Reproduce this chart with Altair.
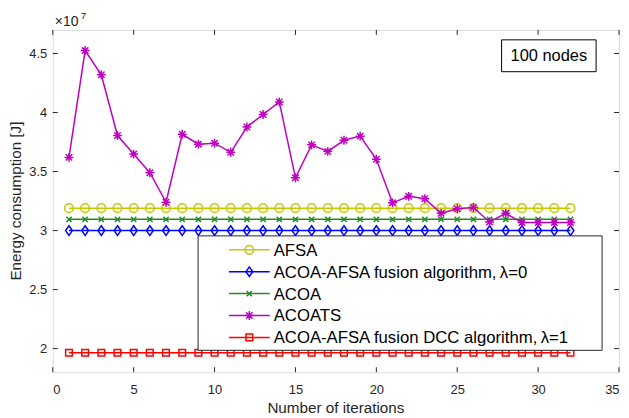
import altair as alt
import pandas as pd

# ---------------- data (energy in units of 1e7 J) ----------------
iterations = list(range(1, 33))
afsa = [3.19] * 32
acoa_afsa0 = [3.00] * 32
acoa = [3.095] * 32
acoats = [3.62, 4.525, 4.32, 3.805, 3.648, 3.49, 3.24, 3.816, 3.732, 3.74,
          3.663, 3.877, 3.983, 4.09, 3.447, 3.726, 3.671, 3.765, 3.80, 3.604,
          3.235, 3.29, 3.27, 3.146, 3.185, 3.196, 3.073, 3.146, 3.068, 3.068,
          3.068, 3.068]
dcc1 = [1.965] * 32

series_names = ["AFSA",
                "ACOA-AFSA fusion algorithm,\u2009\u03bb=0",
                "ACOA",
                "ACOATS",
                "ACOA-AFSA fusion DCC algorithm,\u2009\u03bb=1"]
series_values = [afsa, acoa_afsa0, acoa, acoats, dcc1]

x_ticks = [0, 5, 10, 15, 20, 25, 30, 35]
y_ticks = [2, 2.5, 3, 3.5, 4, 4.5]
x_domain = [0, 35]
y_domain = [1.8, 4.7]

# ---------------- styles ----------------
W, H = 569, 344
FONT = "Liberation Sans"
AX = "#262626"
colors = ["#C8C800", "#0000FF", "#228B22", "#C000C0", "#FF0000"]
shapes = ["circle",
          "M0,-1.2L0.85,0L0,1.2L-0.85,0Z",
          "M-1,-1L1,1M-1,1L1,-1",
          "M-1,0L1,0M0,-1L0,1M-0.72,-0.72L0.72,0.72M-0.72,0.72L0.72,-0.72",
          "square"]
sizes = [75, 64, 28, 80, 45]

xs = alt.Scale(domain=x_domain, nice=False, zero=False)
ys = alt.Scale(domain=y_domain, nice=False, zero=False)

layers = []

# axes (labels only; ticks drawn inward below)
axes_layer = alt.Chart(pd.DataFrame({"x": [0], "y": [2]})).mark_point(opacity=0).encode(
    x=alt.X("x:Q", scale=xs, axis=alt.Axis(values=x_ticks, format="~g", tickSize=0, domain=False,
                                           grid=False, labelPadding=11, labelFontSize=13,
                                           labelFont=FONT, labelColor=AX, title=None)),
    y=alt.Y("y:Q", scale=ys, axis=alt.Axis(values=y_ticks, format="~g", tickSize=0, domain=False,
                                           grid=False, labelPadding=6, labelFontSize=13,
                                           labelFont=FONT, labelColor=AX, title=None)),
)
layers.append(axes_layer)

# inward ticks
xt = pd.DataFrame({"t": x_ticks})
yt = pd.DataFrame({"t": y_ticks})
for y1, y2 in [(H, H - 5), (0, 5)]:
    layers.append(alt.Chart(xt).mark_rule(color=AX, strokeWidth=1).encode(
        x=alt.X("t:Q", scale=xs), y=alt.value(y1), y2=alt.value(y2)))
for x1, x2 in [(0, 5), (W, W - 5)]:
    layers.append(alt.Chart(yt).mark_rule(color=AX, strokeWidth=1).encode(
        y=alt.Y("t:Q", scale=ys), x=alt.value(x1), x2=alt.value(x2)))

# data series
for name, vals, c, sh, sz in zip(series_names, series_values, colors, shapes, sizes):
    df = pd.DataFrame({"it": iterations, "v": vals})
    base = alt.Chart(df).encode(x=alt.X("it:Q", scale=xs), y=alt.Y("v:Q", scale=ys))
    layers.append(base.mark_line(color=c, strokeWidth=1.5))
    layers.append(base.mark_point(shape=sh, size=sz, color=c, filled=False, strokeWidth=1.5, opacity=1))

# legend box
one = pd.DataFrame({"a": [0]})
LX0, LX1, LY0, LY1 = 146, 552, 207, 322
layers.append(alt.Chart(one).mark_rect(fill="white", stroke=AX, strokeWidth=1).encode(
    x=alt.value(LX0), x2=alt.value(LX1), y=alt.value(LY0), y2=alt.value(LY1)))
row_y = [221, 243, 265, 287, 309]
for name, c, sh, sz, ry in zip(series_names, colors, shapes, sizes, row_y):
    layers.append(alt.Chart(one).mark_rule(color=c, strokeWidth=1.5).encode(
        x=alt.value(177), x2=alt.value(218), y=alt.value(ry)))
    layers.append(alt.Chart(one).mark_point(shape=sh, size=sz, color=c, filled=False,
                                            strokeWidth=1.5, opacity=1).encode(
        x=alt.value(197.5), y=alt.value(ry)))
    layers.append(alt.Chart(one).mark_text(text=name, font=FONT, fontSize=16.8, color="black",
                                           align="left", baseline="middle").encode(
        x=alt.value(222), y=alt.value(ry + 1)))

# "100 nodes" annotation
layers.append(alt.Chart(one).mark_rect(fill="white", stroke="black", strokeWidth=1).encode(
    x=alt.value(451), x2=alt.value(546), y=alt.value(10), y2=alt.value(42)))
layers.append(alt.Chart(one).mark_text(text="100 nodes", font=FONT, fontSize=16.5, color="black",
                                       align="center", baseline="middle").encode(
    x=alt.value(498.5), y=alt.value(26.5)))

# exponent label
layers.append(alt.Chart(one).mark_text(text="\u00d710", font=FONT, fontSize=14, color=AX,
                                       align="left", baseline="alphabetic").encode(
    x=alt.value(2), y=alt.value(-4)))
layers.append(alt.Chart(one).mark_text(text="7", font=FONT, fontSize=10, color=AX,
                                       align="left", baseline="alphabetic").encode(
    x=alt.value(28), y=alt.value(-11)))

# axis titles
layers.append(alt.Chart(one).mark_text(text="Number of iterations", font=FONT, fontSize=15.3,
                                       color=AX, align="center", baseline="alphabetic").encode(
    x=alt.value(W / 2), y=alt.value(H + 41)))
layers.append(alt.Chart(one).mark_text(text="Energy consumption [J]", font=FONT, fontSize=15.3,
                                       color=AX, align="center", baseline="alphabetic",
                                       angle=270).encode(
    x=alt.value(-32), y=alt.value(H / 2)))

chart = alt.layer(*layers).properties(
    width=W, height=H,
    autosize=alt.AutoSizeParams(type="none"),
    padding={"left": 45, "top": 21, "right": 2, "bottom": 45},
).configure_view(stroke=AX, strokeWidth=1).configure(background="white")

chart.save("out.html", embed_options={"renderer": "svg", "actions": False})
